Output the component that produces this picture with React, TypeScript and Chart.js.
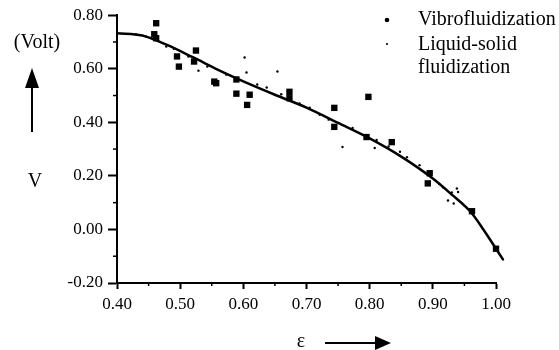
import React, { useEffect, useRef } from "react";
import { Chart, registerables } from "chart.js";

Chart.register(...registerables);

// Fitted curve (ε, V)
const curveEps = [0.40, 0.44, 0.48, 0.52, 0.56, 0.60, 0.65, 0.70, 0.75, 0.80, 0.85, 0.90, 0.93, 0.96, 0.98, 1.00, 1.011];
const curveV = [0.733, 0.724, 0.688, 0.643, 0.596, 0.553, 0.503, 0.455, 0.398, 0.340, 0.272, 0.190, 0.130, 0.065, 0.0, -0.072, -0.112];

// Vibrofluidization (squares)
const vibroEps = [0.462, 0.459, 0.462, 0.495, 0.498, 0.525, 0.522, 0.554, 0.557, 0.589, 0.589, 0.610, 0.606, 0.673, 0.673, 0.744, 0.744, 0.798, 0.795, 0.835, 0.895, 0.892, 0.962, 1.000];
const vibroV = [0.770, 0.729, 0.714, 0.646, 0.608, 0.668, 0.627, 0.552, 0.546, 0.507, 0.560, 0.503, 0.465, 0.514, 0.490, 0.454, 0.383, 0.495, 0.345, 0.326, 0.210, 0.172, 0.068, -0.072];

// Liquid-solid fluidization (small dots)
const liquidEps = [0.602, 0.605, 0.654, 0.529, 0.757, 0.808, 0.938, 0.924, 0.933, 0.940,
  0.430, 0.446, 0.478, 0.490, 0.513, 0.543, 0.573, 0.622, 0.637, 0.660, 0.689, 0.705, 0.721, 0.735, 0.773, 0.811, 0.830, 0.848, 0.859, 0.879, 0.916, 0.930, 0.910];
const liquidV = [0.642, 0.586, 0.590, 0.593, 0.308, 0.304, 0.153, 0.108, 0.097, 0.140,
  0.728, 0.720, 0.683, 0.675, 0.646, 0.608, 0.578, 0.541, 0.530, 0.505, 0.470, 0.455, 0.428, 0.410, 0.379, 0.334, 0.310, 0.290, 0.270, 0.240, 0.157, 0.138, 0.170];

const xMinorTicks = [0.45, 0.55, 0.65, 0.75, 0.85, 0.95];
const yMinorTicks = [-0.1, 0.1, 0.3, 0.5, 0.7];

const legendLabels = ["Vibrofluidization", "Liquid-solid", "fluidization"];
const FONT = "'Liberation Serif', 'Times New Roman', serif";

const decorPlugin = {
  id: "decor",
  afterDatasetsDraw(chart: any) {
    // continue the fitted curve past the axis end (beyond x max)
    const ctx = chart.ctx;
    const xs = chart.scales.x;
    const ys = chart.scales.y;
    const n = curveEps.length;
    ctx.save();
    ctx.strokeStyle = "#000";
    ctx.lineWidth = 2.5;
    ctx.lineCap = "round";
    ctx.beginPath();
    ctx.moveTo(xs.getPixelForValue(curveEps[n - 2]), ys.getPixelForValue(curveV[n - 2]));
    ctx.lineTo(xs.getPixelForValue(curveEps[n - 1]), ys.getPixelForValue(curveV[n - 1]));
    ctx.stroke();
    ctx.restore();
  },
  afterDraw(chart: any) {
    const ctx = chart.ctx;
    const xs = chart.scales.x;
    const ys = chart.scales.y;
    const area = chart.chartArea;
    ctx.save();
    ctx.strokeStyle = "#000";
    ctx.fillStyle = "#000";
    // minor ticks
    ctx.lineWidth = 1.5;
    xMinorTicks.forEach((v) => {
      const px = xs.getPixelForValue(v);
      ctx.beginPath();
      ctx.moveTo(px, area.bottom);
      ctx.lineTo(px, area.bottom + 3);
      ctx.stroke();
    });
    yMinorTicks.forEach((v) => {
      const py = ys.getPixelForValue(v);
      ctx.beginPath();
      ctx.moveTo(area.left - 4, py);
      ctx.lineTo(area.left, py);
      ctx.stroke();
    });
    // axis titles
    ctx.font = `20px ${FONT}`;
    ctx.textAlign = "center";
    ctx.textBaseline = "middle";
    ctx.fillText("(Volt)", 37, 43);
    ctx.fillText("V", 35, 182);
    ctx.fillText("ε", 301, 342);
    // up arrow
    ctx.lineWidth = 2;
    ctx.beginPath();
    ctx.moveTo(32, 132);
    ctx.lineTo(32, 84);
    ctx.stroke();
    ctx.beginPath();
    ctx.moveTo(25, 88);
    ctx.lineTo(39, 88);
    ctx.lineTo(32, 68);
    ctx.closePath();
    ctx.fill();
    // right arrow
    ctx.beginPath();
    ctx.moveTo(325, 343);
    ctx.lineTo(378, 343);
    ctx.stroke();
    ctx.beginPath();
    ctx.moveTo(375, 336);
    ctx.lineTo(375, 350);
    ctx.lineTo(391, 343);
    ctx.closePath();
    ctx.fill();
    // legend
    ctx.beginPath();
    ctx.arc(387, 20, 2.3, 0, Math.PI * 2);
    ctx.fill();
    ctx.beginPath();
    ctx.arc(387, 44, 1.1, 0, Math.PI * 2);
    ctx.fill();
    ctx.textAlign = "left";
    ctx.fillText(legendLabels[0], 418, 20);
    ctx.fillText(legendLabels[1], 418, 45);
    ctx.fillText(legendLabels[2], 418, 68);
    ctx.restore();
  },
};

export default function App() {
  const ref = useRef<HTMLCanvasElement | null>(null);
  useEffect(() => {
    if (!ref.current) return;
    const chart = new Chart(ref.current, {
      type: "scatter",
      data: {
        datasets: [
          {
            type: "line",
            label: "fit",
            data: curveEps.map((x, i) => ({ x, y: curveV[i] })),
            borderColor: "#000",
            borderWidth: 2.5,
            pointRadius: 0,
            cubicInterpolationMode: "monotone",
            fill: false,
            clip: false,
          } as any,
          {
            label: "Vibrofluidization",
            data: vibroEps.map((x, i) => ({ x, y: vibroV[i] })),
            pointStyle: "rect",
            pointRadius: 4.5,
            backgroundColor: "#000",
            borderWidth: 0,
            clip: false,
          } as any,
          {
            label: "Liquid-solid fluidization",
            data: liquidEps.map((x, i) => ({ x, y: liquidV[i] })),
            pointStyle: "circle",
            pointRadius: 1.2,
            backgroundColor: "#000",
            borderWidth: 0,
          },
        ],
      },
      options: {
        animation: false,
        responsive: true,
        maintainAspectRatio: false,
        layout: { padding: { top: 15, right: 63, left: 0, bottom: 0 } },
        plugins: { legend: { display: false }, tooltip: { enabled: false } },
        scales: {
          x: {
            type: "linear",
            min: 0.4,
            max: 1.0,
            afterFit: (s: any) => { s.height = 67; },
            ticks: {
              stepSize: 0.1,
              color: "#000",
              padding: 5,
              font: { family: FONT, size: 17 },
              callback: (v: any) => Number(v).toFixed(2),
            },
            grid: { drawOnChartArea: false, drawTicks: true, tickLength: 6, tickWidth: 2, tickColor: "#000" },
            border: { display: true, color: "#000", width: 2 },
          },
          y: {
            type: "linear",
            min: -0.2,
            max: 0.8,
            afterFit: (s: any) => { s.width = 117; },
            ticks: {
              stepSize: 0.2,
              color: "#000",
              padding: 5,
              font: { family: FONT, size: 17 },
              callback: (v: any) => Number(v).toFixed(2),
            },
            grid: { drawOnChartArea: false, drawTicks: true, tickLength: 9, tickWidth: 2, tickColor: "#000" },
            border: { display: true, color: "#000", width: 2 },
          },
        },
      },
      plugins: [decorPlugin],
    });
    return () => chart.destroy();
  }, []);
  return (
    <div style={{ position: "absolute", left: 0, top: 0, width: 559, height: 350, background: "#fff" }}>
      <canvas ref={ref} />
    </div>
  );
}
